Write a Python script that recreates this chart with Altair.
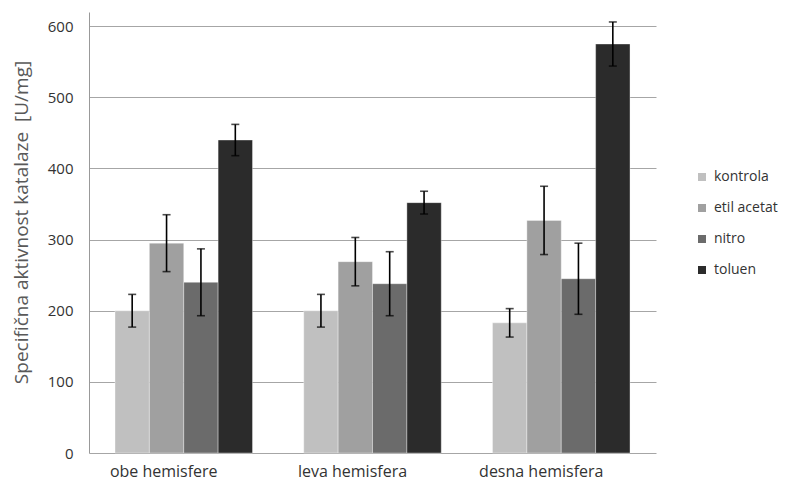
import altair as alt
import pandas as pd

groups = ["obe hemisfere", "leva hemisfera", "desna hemisfera"]
series = ["kontrola", "etil acetat", "nitro", "toluen"]
colors = ["#c0c0c0", "#a0a0a0", "#6b6b6b", "#2b2b2b"]

kontrola = [200, 200, 183]
etil_acetat = [295, 269, 327]
nitro = [240, 238, 245]
toluen = [440, 352, 575]

err_kontrola = [23, 23, 20]
err_etil_acetat = [40, 34, 48]
err_nitro = [47, 45, 50]
err_toluen = [22, 16, 31]

y_ticks = [0, 100, 200, 300, 400, 500, 600]

vals = [kontrola, etil_acetat, nitro, toluen]
errs = [err_kontrola, err_etil_acetat, err_nitro, err_toluen]
rows = []
for s, v, e in zip(series, vals, errs):
    for g, vv, ee in zip(groups, v, e):
        rows.append({"group": g, "series": s, "value": vv, "lo": vv - ee, "hi": vv + ee})
df = pd.DataFrame(rows)

font = "Open Sans"

x_enc = alt.X("group:N", sort=groups,
              scale=alt.Scale(paddingInner=0.2715, paddingOuter=0.1377),
              axis=alt.Axis(title=None, domain=False, ticks=False, labelAngle=0,
                            labelFontSize=16, labelFont=font, labelColor="#333333",
                            labelPadding=10, labelOffset=-20))
xo_enc = alt.XOffset("series:N", sort=series,
                     scale=alt.Scale(paddingInner=0, paddingOuter=0))

base = alt.Chart(df)

bars = base.mark_bar(stroke="white", strokeWidth=0.6, strokeOpacity=0.6).encode(
    x=x_enc,
    xOffset=xo_enc,
    y=alt.Y("value:Q",
            scale=alt.Scale(domain=[0, 620], nice=False),
            axis=alt.Axis(values=y_ticks, title="Specifična aktivnost katalaze\u00a0 [U/mg]",
                          titleFont=font, titleFontSize=19, titleFontWeight="normal",
                          titleColor="#595959", titleX=-68, titleY=210,
                          titleAlign="center", titleBaseline="middle", titleAngle=270,
                          labelFont=font, labelFontSize=15, labelColor="#333333",
                          labelPadding=16, ticks=False,
                          domain=True, domainColor="#999999",
                          grid=True, gridColor="#a6a6a6")),
    color=alt.Color("series:N", sort=series,
                    scale=alt.Scale(domain=series, range=colors),
                    legend=alt.Legend(title=None, orient="none", legendX=606, legendY=158,
                                      symbolType="square", symbolSize=64,
                                      symbolStrokeWidth=0,
                                      labelFont=font, labelFontSize=14,
                                      labelColor="#333333", rowPadding=17,
                                      labelOffset=5, labelLimit=200)),
)

rules = base.mark_rule(color="black", strokeWidth=1.6).encode(
    x=alt.X("group:N", sort=groups), xOffset=xo_enc,
    y=alt.Y("lo:Q"), y2="hi:Q")

caps_hi = base.mark_tick(color="black", thickness=1.6, size=8, orient="horizontal").encode(
    x=alt.X("group:N", sort=groups), xOffset=xo_enc, y=alt.Y("hi:Q"))
caps_lo = base.mark_tick(color="black", thickness=1.6, size=8, orient="horizontal").encode(
    x=alt.X("group:N", sort=groups), xOffset=xo_enc, y=alt.Y("lo:Q"))

chart = alt.layer(bars, rules, caps_hi, caps_lo).properties(
    width=567, height=441,
    background="white",
    autosize=alt.AutoSizeParams(type="none"),
    padding={"left": 81, "top": 4, "right": 124, "bottom": 30},
).configure_view(stroke=None)

chart.save("out.html", embed_options={"renderer": "svg", "actions": False})
